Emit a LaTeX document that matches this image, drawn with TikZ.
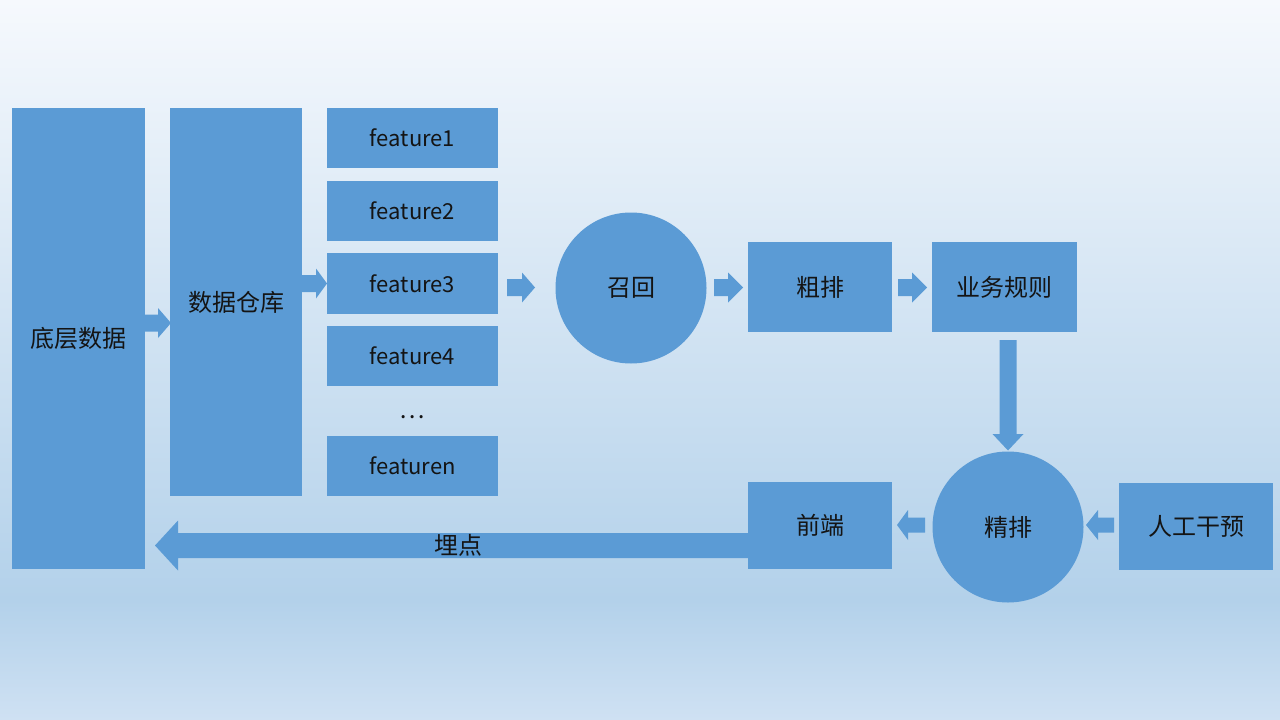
\documentclass[tikz,border=0pt]{standalone}
\usepackage{fontspec}
\setmainfont{Noto Sans CJK SC}
\definecolor{bgA}{HTML}{F6F9FD}
\definecolor{bgB}{HTML}{B3D1EA}
\definecolor{bgC}{HTML}{CFE1F3}
\definecolor{blk}{HTML}{5B9BD5}
\definecolor{txt}{HTML}{141414}
\newcommand{\rarr}[5]{% start x, y, length, head length, half shaft
  \fill[blk] (#1,#2) ++(0,-#5) -- ++({#3-#4},0) -- ++(0,{-(15-#5)}) -- ++(#4,15) -- ++(-#4,15) -- ++(0,{-(15-#5)}) -- ++({-(#3-#4)},0) -- cycle;}
\newcommand{\larr}[5]{% tip x, y, length, head length, half shaft
  \fill[blk] (#1,#2) -- ++(#4,-15) -- ++(0,{15-#5}) -- ++({#3-#4},0) -- ++(0,{2*#5}) -- ++({-(#3-#4)},0) -- ++(0,{15-#5}) -- cycle;}
\begin{document}
\begin{tikzpicture}[x=1pt,y=-1pt,
  box/.style={fill=blk,draw=none,rectangle,inner sep=0pt,text=txt,font=\fontsize{24}{28}\selectfont},
  featbox/.style={box,minimum width=171pt,font=\fontsize{22}{26}\selectfont},
  disc/.style={fill=blk,draw=none,circle,inner sep=0pt,minimum size=151pt,text=txt,font=\fontsize{24}{28}\selectfont},
  lbl/.style={inner sep=0pt,text=txt,font=\fontsize{24}{28}\selectfont}]
\useasboundingbox (0,0) rectangle (1280,720);
\shade[top color=bgA,bottom color=bgB] (0,0) rectangle (1280,600);
\shade[top color=bgB,bottom color=bgC] (0,600) rectangle (1280,720);
% arrows
\rarr{145}{323}{26}{13}{8.5}
\rarr{302}{283.5}{25}{11}{8.5}
\rarr{507}{287.5}{28}{13}{8.5}
\rarr{714}{287.5}{29}{15}{8.5}
\rarr{898}{287.5}{29}{15}{8.5}
\fill[blk] (999.5,340) -- (1016.5,340) -- (1016.5,434) -- (1023.5,434) -- (1008,450.5) -- (992.5,434) -- (999.5,434) -- cycle;
\larr{897}{525}{28}{11}{7.5}
\larr{1086}{525}{28}{12}{7.5}
\fill[blk] (155,545.5) -- (178,520.5) -- (178,533) -- (760,533) -- (760,558) -- (178,558) -- (178,570.5) -- cycle;
% nodes
\node[box,minimum width=133pt,minimum height=461pt] (base) at (78.5,338.5) {底层数据};
\node[box,minimum width=132pt,minimum height=388pt] (dw) at (236,302) {数据仓库};
\node[featbox,minimum height=60pt] (f1) at (412.5,138) {feature1};
\node[featbox,minimum height=60pt] (f2) at (412.5,211) {feature2};
\node[featbox,minimum height=61pt] (f3) at (412.5,283.5) {feature3};
\node[featbox,minimum height=60pt] (f4) at (412.5,356) {feature4};
\node[lbl] (dots) at (412.5,417) {…};
\node[featbox,minimum height=60pt] (fn) at (412.5,466) {featuren};
\node[disc] (recall) at (631,288) {召回};
\node[box,minimum width=144pt,minimum height=90pt] (cu) at (820,287) {粗排};
\node[box,minimum width=145pt,minimum height=90pt] (rule) at (1004.5,287) {业务规则};
\node[disc] (fine) at (1008,527) {精排};
\node[box,minimum width=144pt,minimum height=87pt] (fe) at (820,525.5) {前端};
\node[box,minimum width=154pt,minimum height=87pt] (man) at (1196,526.5) {人工干预};
\node[lbl] (bury) at (458,545) {埋点};
\end{tikzpicture}
\end{document}
